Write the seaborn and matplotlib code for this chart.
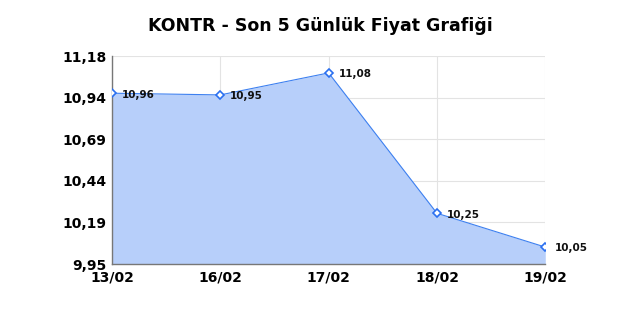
import matplotlib
matplotlib.use("Agg")
import matplotlib.pyplot as plt
import seaborn as sns
import numpy as np
import pandas as pd

dates = ["13/02", "16/02", "17/02", "18/02", "19/02"]
prices = [10.96, 10.95, 11.08, 10.25, 10.05]
point_labels = ["10,96", "10,95", "11,08", "10,25", "10,05"]
ytick_labels = ["9,95", "10,19", "10,44", "10,69", "10,94", "11,18"]
title = "KONTR - Son 5 Günlük Fiyat Grafiği"

sns.set_theme(style="white")
plt.rcParams['font.family'] = ['DejaVu Sans']

df = pd.DataFrame({"x": np.arange(len(dates)), "price": prices})

fig = plt.figure(figsize=(6.4, 3.2), dpi=100)
ax = fig.add_axes([0.175, 0.175, 0.677, 0.65])

ymin, ymax = 9.95, 11.18
ax.fill_between(df["x"], df["price"], ymin, color="#b7cffa", zorder=1, linewidth=0)
sns.lineplot(data=df, x="x", y="price", ax=ax, color="#3d80f0", linewidth=0.8,
             marker="D", markersize=4, markerfacecolor="white",
             markeredgecolor="#2a6ff0", markeredgewidth=1.2, zorder=3)

for xi, yi, lab in zip(df["x"], df["price"], point_labels):
    ax.annotate(lab, (xi, yi), xytext=(7, -1), textcoords="offset points",
                fontsize=7.5, fontweight="bold", va="center", ha="left", color="#111111")

ax.set_xlim(0, len(dates) - 1)
ax.set_ylim(ymin, ymax)
ax.set_xticks(df["x"])
ax.set_xticklabels(dates, fontsize=10, fontweight="bold", color="black")
yt = np.linspace(ymin, ymax, len(ytick_labels))
ax.set_yticks(yt)
ax.set_yticklabels(ytick_labels, fontsize=10, fontweight="bold", color="black")
ax.tick_params(axis="x", length=0, pad=5)
ax.tick_params(axis="y", length=0, pad=4)
ax.grid(True, color="#e3e3e3", linewidth=0.8, zorder=0)
ax.set_axisbelow(True)
ax.set_xlabel("")
ax.set_ylabel("")
for s in ["top", "right"]:
    ax.spines[s].set_visible(False)
for s in ["left", "bottom"]:
    ax.spines[s].set_color("#777777")
    ax.spines[s].set_linewidth(1)

fig.text(0.5, 0.92, title, ha="center", va="center", fontsize=12.5, fontweight="bold", color="black")
fig.savefig("out.png", dpi=100, facecolor="white")
